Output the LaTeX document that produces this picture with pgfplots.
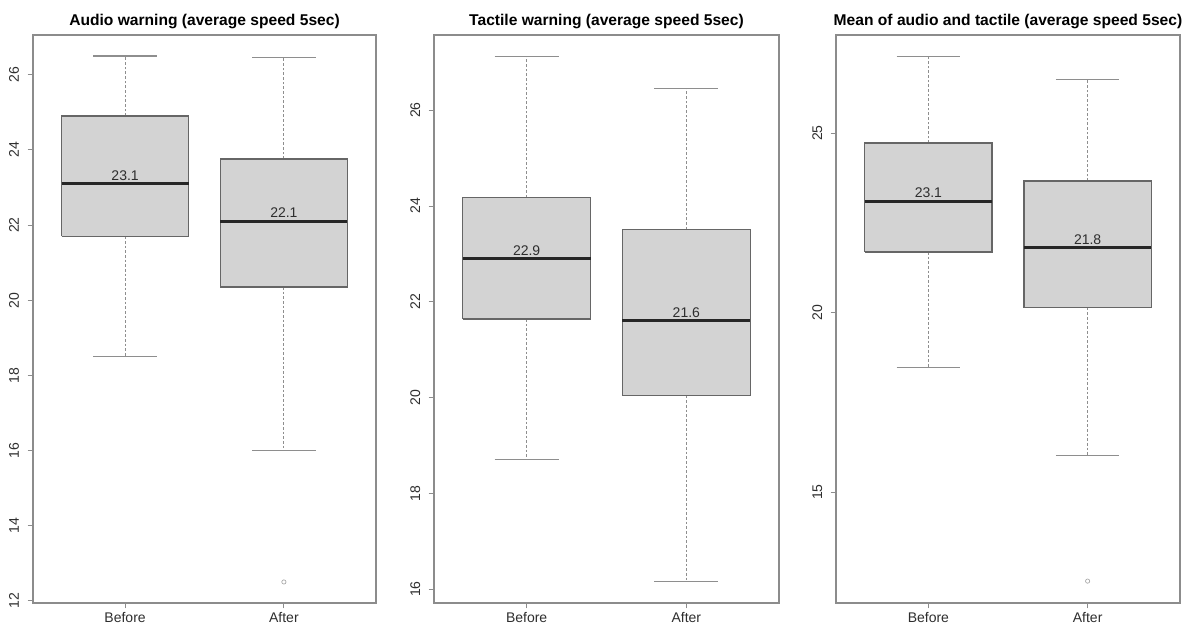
\documentclass[border=0pt]{standalone}
\usepackage{pgfplots}
\pgfplotsset{compat=1.18}
\usepackage{fontspec}
\setmainfont{Liberation Sans}

\definecolor{boxfill}{HTML}{D3D3D3}
\definecolor{boxedge}{HTML}{666666}
\definecolor{framegray}{HTML}{8C8C8C}
\definecolor{whiskgray}{HTML}{8E8E8E}
\definecolor{medcol}{HTML}{262626}
\definecolor{txtcol}{HTML}{2E2E2E}

\pgfplotsset{
  rpanel/.style={
    scale only axis,
    height=426pt,
    anchor=north west,
    xmin=0.42, xmax=2.58,
    xtick={1,2}, xticklabels={Before,After},
    xtick pos=bottom, ytick pos=left,
    tick align=outside,
    major tick length=4pt,
    axis line style={draw=framegray, line width=1pt},
    tick style={draw=framegray, line width=0.7pt},
    ticklabel style={font=\fontsize{10.5}{12}\selectfont, text=txtcol},
    /pgf/number format/assume math mode=true,
    yticklabel style={rotate=90, anchor=base},
    yticklabel shift=6.5pt,
    xticklabel style={anchor=base},
    xticklabel shift=10.25pt,
    title style={at={(0.5,1)}, anchor=base, yshift=1.5pt,
                 font=\fontsize{11.7}{13}\selectfont\bfseries},
  },
  whisk/.style={whiskgray, line width=0.75pt, dash pattern=on 2pt off 1.5pt, mark=none},
  cap/.style={whiskgray, line width=0.85pt, mark=none},
  boxst/.style={draw=boxedge, fill=boxfill, line width=1pt, mark=none, line join=miter},
  medst/.style={draw=medcol, line width=2.2pt, mark=none},
  outl/.style={only marks, mark=o, mark size=1.6pt,
    mark options={draw=gray!70, line width=0.5pt}},
  medlabels/.style={draw=none, mark=none,
    nodes near coords, point meta=explicit symbolic,
    nodes near coords style={anchor=base, yshift=2.6pt, inner sep=0pt,
      font=\fontsize{10.5}{12}\selectfont, text=txtcol}},
}

% one box-and-whisker group: position, lower whisker, Q1, median, Q3, upper whisker
\newcommand{\rbox}[6]{%
  \pgfmathsetmacro\boxL{#1-0.4}\pgfmathsetmacro\boxR{#1+0.4}%
  \pgfmathsetmacro\capL{#1-0.2}\pgfmathsetmacro\capR{#1+0.2}%
  \addplot[whisk] coordinates {(#1,#3) (#1,#2)};
  \addplot[whisk] coordinates {(#1,#5) (#1,#6)};
  \addplot[cap] coordinates {(\capL,#2) (\capR,#2)};
  \addplot[cap] coordinates {(\capL,#6) (\capR,#6)};
  \addplot[boxst] coordinates {(\boxL,#3) (\boxR,#3) (\boxR,#5) (\boxL,#5) (\boxL,#3)};
  \addplot[medst] coordinates {(\boxL,#4) (\boxR,#4)};
}

\begin{document}
\begin{tikzpicture}
\path[use as bounding box] (0,0) rectangle (889.5pt,-468.75pt);

% Panel 1: audio warning
\begin{axis}[rpanel, at={(24.75pt,-26.25pt)}, width=257.25pt,
  ymin=11.94, ymax=27.06, ytick={12,14,...,26},
  title={Audio warning (average speed 5sec)}]
\rbox{1}{18.5}{21.7}{23.1}{24.9}{26.5}
\rbox{2}{16.0}{20.35}{22.1}{23.76}{26.45}
\addplot[outl] coordinates {(2,12.5)};
\addplot[medlabels] coordinates {(1,23.1) [23.1] (2,22.1) [22.1]};
\end{axis}

% Panel 2: tactile warning
\begin{axis}[rpanel, at={(325.5pt,-26.25pt)}, width=258.75pt,
  ymin=15.71, ymax=27.57, ytick={16,18,...,26},
  title={Tactile warning (average speed 5sec)}]
\rbox{1}{18.71}{21.64}{22.9}{24.18}{27.13}
\rbox{2}{16.15}{20.04}{21.6}{23.51}{26.46}
\addplot[medlabels] coordinates {(1,22.9) [22.9] (2,21.6) [21.6]};
\end{axis}

% Panel 3: mean of both warnings
\begin{axis}[rpanel, at={(627pt,-26.25pt)}, width=258pt,
  ymin=11.91, ymax=27.73, ytick={15,20,25},
  title={Mean of audio and tactile (average speed 5sec)}]
\rbox{1}{18.48}{21.69}{23.1}{24.72}{27.14}
\rbox{2}{16.02}{20.14}{21.8}{23.66}{26.48}
\addplot[outl] coordinates {(2,12.52)};
\addplot[medlabels] coordinates {(1,23.1) [23.1] (2,21.8) [21.8]};
\end{axis}
\end{tikzpicture}
\end{document}
